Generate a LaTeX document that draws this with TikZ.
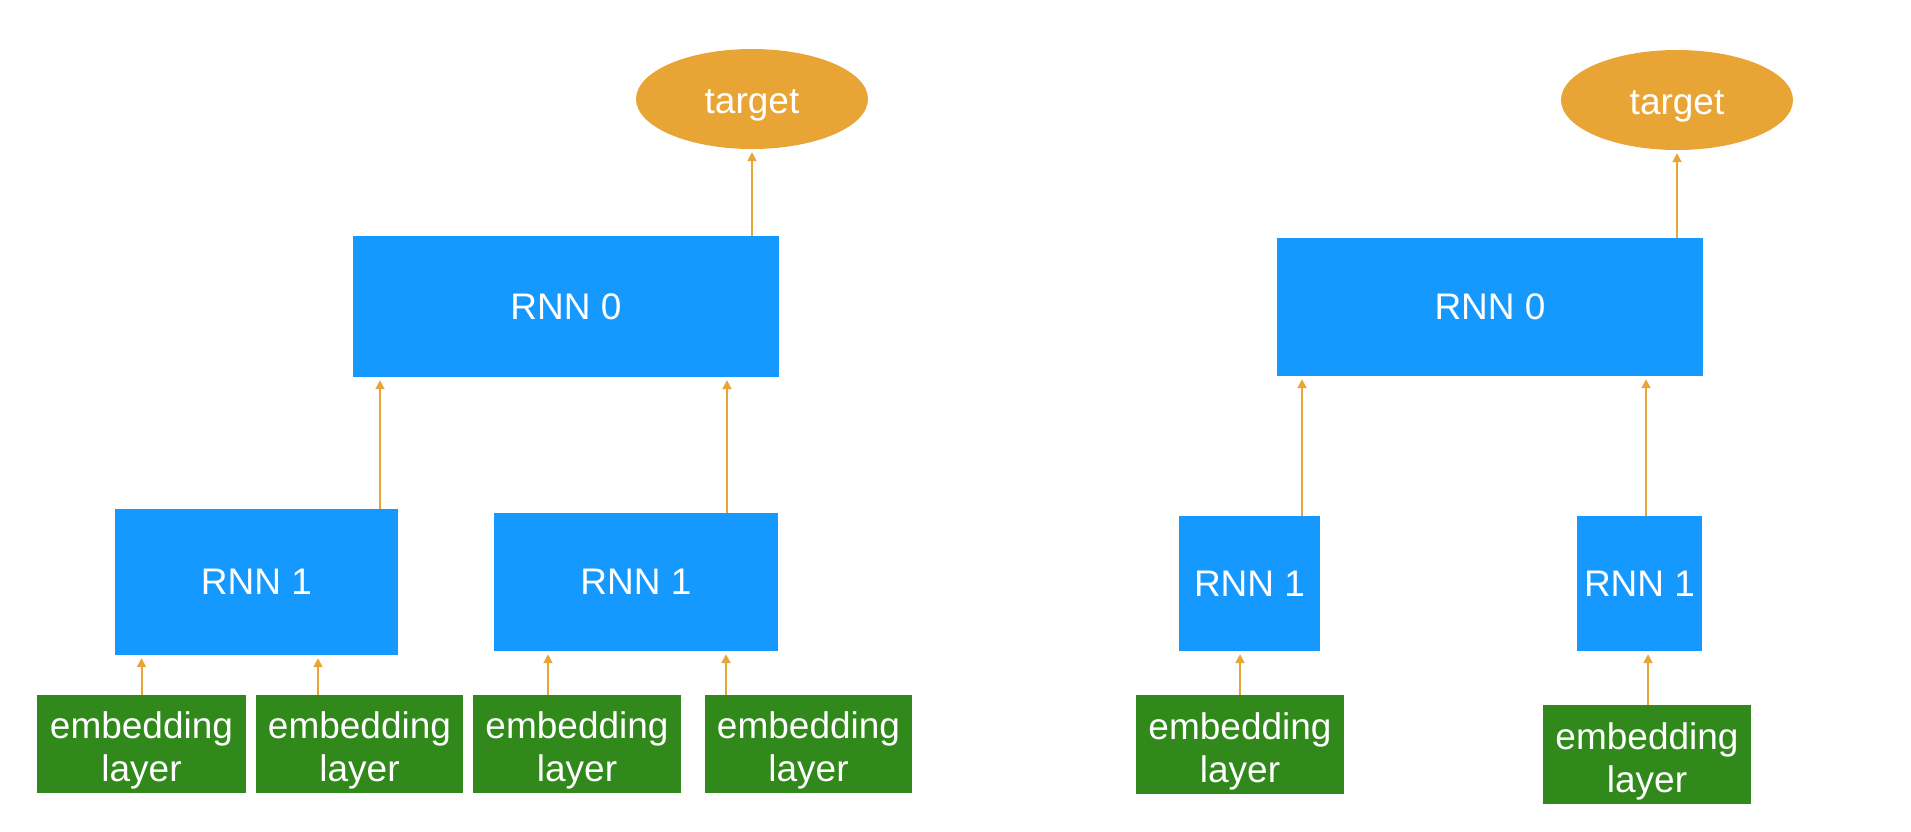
\documentclass[tikz,border=0pt]{standalone}
\usepackage{fontspec}
\setmainfont{Liberation Sans}
\usetikzlibrary{shapes.geometric,arrows.meta}
\definecolor{rnnblue}{RGB}{21,153,255}
\definecolor{tgtorange}{RGB}{232,165,53}
\definecolor{embgreen}{RGB}{48,137,26}
\tikzset{
  lbl/.style={text=white,font=\fontsize{37}{43}\selectfont,align=center,inner sep=0pt},
  rnnbox/.style={lbl,rectangle,fill=rnnblue},
  embbox/.style={lbl,rectangle,fill=embgreen,text height=83pt},
  tgtell/.style={lbl,ellipse,fill=tgtorange,minimum width=232pt,minimum height=100pt,text height=36pt},
  arr/.style={draw=tgtorange,line width=2pt,-{Triangle[width=9pt,length=9pt]},shorten >=3pt}
}
\begin{document}
\begin{tikzpicture}[x=1pt,y=-1pt]
\useasboundingbox (0,0) rectangle (1911,831);
% left diagram
\node[tgtell] (tL) at (752,99) {target};
\node[rnnbox,minimum width=426pt,minimum height=141pt] (r0L) at (566,306.5) {RNN 0};
\node[rnnbox,minimum width=283pt,minimum height=146pt] (r1a) at (256.5,582) {RNN 1};
\node[rnnbox,minimum width=284pt,minimum height=138pt] (r1b) at (636,582) {RNN 1};
\node[embbox,minimum width=209pt,minimum height=98pt] (e1) at (141.5,744) {embedding\\layer};
\node[embbox,minimum width=207pt,minimum height=98pt] (e2) at (359.5,744) {embedding\\layer};
\node[embbox,minimum width=208pt,minimum height=98pt] (e3) at (577,744) {embedding\\layer};
\node[embbox,minimum width=207pt,minimum height=98pt] (e4) at (808.5,744) {embedding\\layer};
\coordinate (xa) at (141.5,0);
\coordinate (xb) at (318,0);
\coordinate (xc) at (548,0);
\coordinate (xd) at (726,0);
\coordinate (xe) at (380,0);
\coordinate (xf) at (727,0);
\coordinate (xg) at (752,0);
\draw[arr] (e1.north -| xa) -- (r1a.south -| xa);
\draw[arr] (e2.north -| xb) -- (r1a.south -| xb);
\draw[arr] (e3.north -| xc) -- (r1b.south -| xc);
\draw[arr] (e4.north -| xd) -- (r1b.south -| xd);
\draw[arr] (r1a.north -| xe) -- (r0L.south -| xe);
\draw[arr] (r1b.north -| xf) -- (r0L.south -| xf);
\draw[arr] (r0L.north -| xg) -- (tL.south -| xg);
% right diagram
\node[tgtell] (tR) at (1677,100) {target};
\node[rnnbox,minimum width=426pt,minimum height=138pt] (r0R) at (1490,307) {RNN 0};
\node[rnnbox,minimum width=141pt,minimum height=135pt] (r1c) at (1249.5,583.5) {RNN 1};
\node[rnnbox,minimum width=125pt,minimum height=135pt] (r1d) at (1639.5,583.5) {RNN 1};
\node[embbox,minimum width=208pt,minimum height=99pt] (e5) at (1240,744.5) {embedding\\layer};
\node[embbox,minimum width=208pt,minimum height=99pt] (e6) at (1647,754.5) {embedding\\layer};
\coordinate (xh) at (1240,0);
\coordinate (xi) at (1648,0);
\coordinate (xj) at (1302,0);
\coordinate (xk) at (1646,0);
\coordinate (xl) at (1677,0);
\draw[arr] (e5.north -| xh) -- (r1c.south -| xh);
\draw[arr] (e6.north -| xi) -- (r1d.south -| xi);
\draw[arr] (r1c.north -| xj) -- (r0R.south -| xj);
\draw[arr] (r1d.north -| xk) -- (r0R.south -| xk);
\draw[arr] (r0R.north -| xl) -- (tR.south -| xl);
\end{tikzpicture}
\end{document}
